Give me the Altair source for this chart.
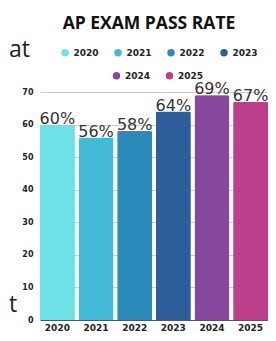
import altair as alt
import pandas as pd

years = ["2020", "2021", "2022", "2023", "2024", "2025"]
rates = [60, 56, 58, 64, 69, 67]
labels = ["60%", "56%", "58%", "64%", "69%", "67%"]
colors = ["#6de2e6", "#42b9d6", "#2b8bbb", "#2d5e99", "#88489d", "#bb3f8b"]
legend_row1 = ["2020", "2021", "2022", "2023"]
legend_row2 = ["2024", "2025"]
y_ticks = [0, 10, 20, 30, 40, 50, 60, 70]
title_text = "AP EXAM PASS RATE"
stray_top = ["at"]
stray_bottom = ["t"]

df = pd.DataFrame({"year": years, "rate": rates, "label": labels})

x = alt.X(
    "year:N", sort=years, title=None,
    scale=alt.Scale(paddingInner=0.1, paddingOuter=0),
    axis=alt.Axis(labelAngle=0, ticks=False, grid=False, domainColor="#555555",
                  labelFont="DejaVu Sans", labelFontWeight="bold", labelFontSize=9,
                  labelColor="#222222", labelPadding=3),
)
y = alt.Y(
    "rate:Q", title=None,
    scale=alt.Scale(domain=[0, 70], nice=False),
    axis=alt.Axis(values=y_ticks, domain=False, ticks=False, gridColor="#cccccc",
                  labelFont="DejaVu Sans", labelFontWeight="bold", labelFontSize=8,
                  labelColor="#222222", labelPadding=7),
)
color_scale = alt.Scale(domain=years, range=colors)


def leg(vals, lx, ly):
    return alt.Legend(values=vals, orient="none", legendX=lx, legendY=ly,
                      direction="horizontal", title=None, symbolType="circle",
                      symbolSize=56, labelFont="DejaVu Sans", labelFontWeight="bold",
                      labelFontSize=9, labelColor="#222222", labelOffset=4,
                      columnPadding=14, padding=0)


bar_mark = dict(cornerRadiusTopLeft=2, cornerRadiusTopRight=2)
bars1 = alt.Chart(df).mark_bar(**bar_mark).encode(
    x=x, y=y,
    color=alt.Color("year:N", scale=color_scale, legend=leg(legend_row1, 20.5, -44)),
)
bars2 = alt.Chart(df).mark_bar(**bar_mark).encode(
    x=x, y=y,
    color=alt.Color("year:N", scale=color_scale, legend=leg(legend_row2, 72, -21)),
)
text = alt.Chart(df).mark_text(
    font="DejaVu Sans", fontSize=16, color="#333333", baseline="alphabetic", dy=-1
).encode(x=x, y=y, text="label:N")

stray1 = alt.Chart(pd.DataFrame({"s": stray_top})).mark_text(
    font="Open Sans", fontSize=23, color="#222222", align="left", baseline="alphabetic"
).encode(x=alt.value(-31), y=alt.value(-35), text="s:N")
stray2 = alt.Chart(pd.DataFrame({"s": stray_bottom})).mark_text(
    font="Open Sans", fontSize=23, color="#222222", align="left", baseline="alphabetic"
).encode(x=alt.value(-31), y=alt.value(220), text="s:N")

chart = alt.layer(bars1, bars2, text, stray1, stray2).resolve_scale(color="independent").properties(
    width=228, height=228,
    title=alt.TitleParams(title_text, font="Open Sans", fontSize=17.5, fontWeight="bold",
                          color="#111111", anchor="middle", dx=-5, offset=7),
    autosize=alt.AutoSizeParams(type="none"),
    padding={"left": 32, "top": 84, "right": 0, "bottom": 12},
).configure_view(stroke=None)

chart.save("out.html", embed_options={"renderer": "svg", "actions": False})
